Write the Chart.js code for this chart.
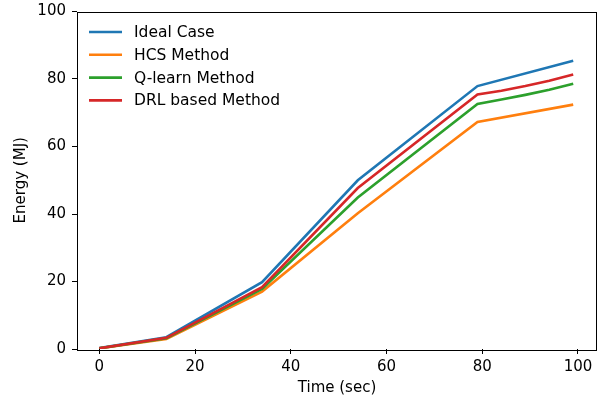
<!DOCTYPE html>
<html>
<head>
<meta charset="utf-8">
<script src="https://cdn.jsdelivr.net/npm/chart.js@4/dist/chart.umd.min.js"></script>
<style>
  html, body { margin: 0; padding: 0; background: #fff; }
  #wrap { width: 606px; height: 402px; }
</style>
</head>
<body>
<div id="wrap"><canvas id="myChart" width="606" height="402"></canvas></div>
<script>
// time points (sec)
const time_main = [0, 14, 34, 54, 79, 99];
const time_fine = [0, 14, 34, 54, 79, 84, 89, 94, 99];

// energy (MJ)
const ideal_case = [0.3, 3.5, 19.8, 50.0, 77.9, 85.4];
const hcs_method = [0.2, 3.0, 17.0, 40.2, 67.3, 72.4];
const qlearn_method = [0.2, 3.2, 17.8, 44.9, 72.6, 73.9, 75.3, 76.8, 78.6];
const drl_method = [0.2, 3.3, 18.3, 47.7, 75.4, 76.5, 77.9, 79.5, 81.3];

const series_names = ["Ideal Case", "HCS Method", "Q-learn Method", "DRL based Method"];
const x_ticks = [0, 20, 40, 60, 80, 100];
const y_ticks = [0, 20, 40, 60, 80, 100];

const colors = ["#1f77b4", "#ff7f0e", "#2ca02c", "#d62728"];
const font_family = "'DejaVu Sans', sans-serif";

const toPoints = (xs, ys) => xs.map((x, i) => ({ x: x, y: ys[i] }));

const all_series = [
    toPoints(time_main, ideal_case),
    toPoints(time_main, hcs_method),
    toPoints(time_fine, qlearn_method),
    toPoints(time_fine, drl_method),
];

// matplotlib-like legend inside the axes, plus the box frame
const frameAndLegend = {
    id: "frameAndLegend",
    afterDraw(chart) {
        const ctx = chart.ctx;
        const area = chart.chartArea;
        ctx.save();
        ctx.strokeStyle = "#000";
        ctx.lineWidth = 1;
        ctx.strokeRect(Math.round(area.left) + 0.5, Math.round(area.top) + 0.5,
            Math.round(area.right - area.left) - 1, Math.round(area.bottom - area.top));

        ctx.font = "15.5px " + font_family;
        ctx.textBaseline = "middle";
        ctx.textAlign = "left";
        series_names.forEach((name, i) => {
            const y = 32 + i * 22.8;
            ctx.strokeStyle = colors[i];
            ctx.lineWidth = 2.6;
            ctx.beginPath();
            ctx.moveTo(89, y);
            ctx.lineTo(122, y);
            ctx.stroke();
            ctx.fillStyle = "#000";
            ctx.fillText(name, 134, y + 1);
        });
        ctx.restore();
    }
};

const ctx = document.getElementById("myChart");

new Chart(ctx, {
    type: "line",
    data: {
        datasets: all_series.map((pts, i) => ({
            label: series_names[i],
            data: pts,
            borderColor: colors[i],
            backgroundColor: colors[i],
            borderWidth: 2.6,
            pointRadius: 0,
            tension: 0,
            fill: false,
            order: 4 - i,
        }))
    },
    options: {
        responsive: false,
        animation: false,
        devicePixelRatio: 1,
        layout: { padding: { left: 0, right: 9, top: 11.5, bottom: 0 } },
        plugins: {
            legend: { display: false },
            tooltip: { enabled: false },
        },
        scales: {
            x: {
                type: "linear",
                min: -4.66,
                max: 103.97,
                afterBuildTicks: scale => { scale.ticks = x_ticks.map(v => ({ value: v })); },
                afterFit: scale => {
                    scale.height = 53;
                    scale.paddingLeft = 0;
                    scale.paddingRight = 0;
                },
                grid: { drawOnChartArea: false, tickLength: 5, color: "#000" },
                border: { display: false },
                ticks: {
                    padding: 4,
                    color: "#000",
                    maxRotation: 0,
                    font: { family: font_family, size: 15 },
                },
                title: {
                    display: true,
                    text: "Time (sec)",
                    color: "#000",
                    padding: { top: 0, bottom: 4.5 },
                    font: { family: font_family, size: 15 },
                },
            },
            y: {
                type: "linear",
                min: 0,
                max: 100,
                afterBuildTicks: scale => { scale.ticks = y_ticks.map(v => ({ value: v })); },
                afterFit: scale => {
                    scale.width = 77;
                    scale.paddingTop = 0;
                    scale.paddingBottom = 0;
                },
                grid: { drawOnChartArea: false, tickLength: 5, color: "#000" },
                border: { display: false },
                ticks: {
                    padding: 6,
                    color: "#000",
                    font: { family: font_family, size: 15 },
                },
                title: {
                    display: true,
                    text: "Energy (MJ)",
                    color: "#000",
                    padding: { top: 12, bottom: 0 },
                    font: { family: font_family, size: 15 },
                },
            },
        },
    },
    plugins: [frameAndLegend],
});
</script>
</body>
</html>
